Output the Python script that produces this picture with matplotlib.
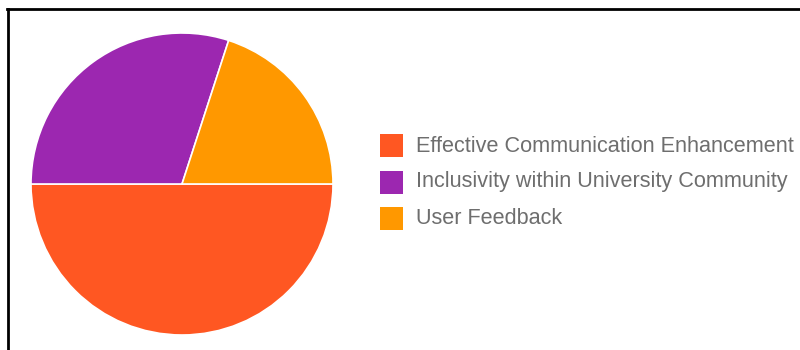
import matplotlib
matplotlib.use("Agg")
import matplotlib.pyplot as plt
from matplotlib.lines import Line2D
from matplotlib.patches import Rectangle

labels = [
    "Effective Communication Enhancement",
    "Inclusivity within University Community",
    "User Feedback",
]
shares = [50, 30, 20]
colors = ["#ff5722", "#9c27b0", "#ff9800"]

W, H = 800, 350
fig = plt.figure(figsize=(W / 100, H / 100), dpi=100, facecolor="white")

# pie placed by pixel geometry: centre (182, 184), radius 151
cx, cy, r = 182, 184, 151
ax = fig.add_axes([(cx - r) / W, (H - cy - r) / H, 2 * r / W, 2 * r / H])
ax.pie(shares, colors=colors, startangle=0, counterclock=False, radius=1,
       wedgeprops=dict(edgecolor="white", linewidth=1.2))
ax.set_xlim(-1, 1)
ax.set_ylim(-1, 1)
ax.set_aspect("equal")
ax.axis("off")

# legend drawn by hand: square swatch + label per row
sq = 23
x0, y_first, step = 380, 146, 36
for i, (lab, col) in enumerate(zip(labels, colors)):
    yc = y_first + i * step
    fig.add_artist(Rectangle(((x0) / W, (H - yc - sq / 2) / H), sq / W, sq / H,
                             transform=fig.transFigure, facecolor=col,
                             edgecolor="none"))
    fig.text(416 / W, (H - yc) / H, lab, fontsize=15.6, color="#6e6e6e",
             family="Liberation Sans", va="center", ha="left")

# frame lines along the top and left edges
fig.add_artist(Line2D([7 / W, 1], [(H - 8.5) / H] * 2, transform=fig.transFigure,
                      color="black", lw=2))
fig.add_artist(Line2D([7.5 / W] * 2, [0, (H - 8.5) / H], transform=fig.transFigure,
                      color="black", lw=2))

fig.savefig("out.png", dpi=100, facecolor="white")
